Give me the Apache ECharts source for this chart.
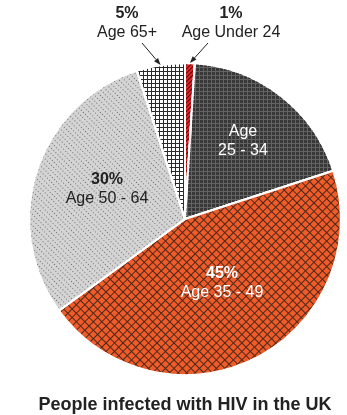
<!DOCTYPE html>
<html>
<head>
<meta charset="utf-8">
<script src="https://cdn.jsdelivr.net/npm/echarts@6/dist/echarts.min.js"></script>
<style>html,body{margin:0;padding:0;background:#fff}#c{width:347px;height:415px}</style>
</head>
<body>
<div id="c"></div>
<script>
// ---- data ----
var categories = ['Age Under 24', 'Age 25 - 34', 'Age 35 - 49', 'Age 50 - 64', 'Age 65+'];
var values = [1, 19, 45, 30, 5];
var showPercent = [true, false, true, true, true];
var labelTexts = ['Age Under 24', 'Age\n25 - 34', 'Age 35 - 49', 'Age 50 - 64', 'Age 65+'];
var chartTitle = 'People infected with HIV in the UK';

// ---- styles ----
var FONT = 'Liberation Sans, Arial, sans-serif';
var CX = 185, CY = 219, R = 156;
var fills = ['#e3232a', '#646464', '#4a2a1a', '#d4d4d4', '#2a2a2a'];
var decals = [
  {symbol: 'rect', symbolSize: 1, color: 'rgba(60,0,0,0.9)', dashArrayX: [[1, 0]], dashArrayY: [1, 2], rotation: -Math.PI / 4},
  {symbol: 'rect', symbolSize: 1, color: '#373737', dashArrayX: [[3, 1]], dashArrayY: [3, 1]},
  {symbol: 'rect', symbolSize: 1, color: '#f15a29', dashArrayX: [[4.2, 0.8]], dashArrayY: [4.2, 0.8], rotation: Math.PI / 4},
  {symbol: 'rect', symbolSize: 1, color: '#6e6e6e', dashArrayX: [[1, 2]], dashArrayY: [1, 3], rotation: Math.PI / 4},
  {symbol: 'rect', symbolSize: 1, color: '#ffffff', dashArrayX: [[2.2, 0.8]], dashArrayY: [2.2, 0.8]}
];
var labelDark = [true, false, false, true, true];
var labelPos = [[231, 23], [243, 141], [222, 283], [107, 189], [127, 23]];
var arrowFrom = [[208, 43], null, null, null, [142, 43]];

var total = values.reduce(function (a, b) { return a + b; }, 0);

// slice edge point at the slice's mid-angle, derived from the data
function edgePoint(i) {
  var acc = 0;
  for (var k = 0; k < i; k++) acc += values[k];
  var mid = (acc + values[i] / 2) / total * 2 * Math.PI;
  return [CX + R * Math.sin(mid), CY - R * Math.cos(mid)];
}

var data = categories.map(function (c, i) {
  return {
    name: c,
    value: values[i],
    itemStyle: {color: fills[i], decal: decals[i]},
    label: {
      formatter: function () {
        var k = labelDark[i] ? 'd' : 'w';
        var lines = labelTexts[i].split('\n').map(function (s) { return '{t' + k + '|' + s + '}'; }).join('\n');
        return (showPercent[i] ? '{p' + k + '|' + Math.round(values[i] / total * 100) + '%}\n' : '') + lines;
      }
    }
  };
});

var arrows = [];
values.forEach(function (v, i) {
  if (!arrowFrom[i]) return;
  var e = edgePoint(i), ex = e[0], ey = e[1];
  var sx = arrowFrom[i][0], sy = arrowFrom[i][1];
  var dx = ex - sx, dy = ey - sy, L = Math.sqrt(dx * dx + dy * dy);
  var ux = dx / L, uy = dy / L;
  var hl = 7, hw = 2.6;
  var bx = ex - ux * hl, by = ey - uy * hl;
  arrows.push({type: 'line', shape: {x1: sx, y1: sy, x2: bx, y2: by}, style: {stroke: '#222', lineWidth: 1}, z: 100});
  arrows.push({type: 'polygon', shape: {points: [[ex, ey], [bx - uy * hw, by + ux * hw], [bx + uy * hw, by - ux * hw]]}, style: {fill: '#222'}, z: 100});
});

var chart = echarts.init(document.getElementById('c'), null, {renderer: 'canvas'});
chart.setOption({
  animation: false,
  backgroundColor: '#fff',
  title: {
    text: chartTitle,
    left: 180, top: 391, textAlign: 'center',
    textStyle: {fontFamily: FONT, fontSize: 18, fontWeight: 'bold', color: '#222'}
  },
  graphic: {elements: arrows},
  series: [{
    type: 'pie',
    center: [CX, CY],
    radius: R,
    startAngle: 90,
    clockwise: true,
    avoidLabelOverlap: false,
    emphasis: {disabled: true},
    itemStyle: {borderColor: '#fff', borderWidth: 2},
    labelLine: {show: false},
    label: {
      show: true,
      position: 'inside',
      fontFamily: FONT,
      rich: {
        pd: {fontFamily: FONT, fontSize: 16, fontWeight: 'bold', color: '#222', lineHeight: 19, align: 'center'},
        pw: {fontFamily: FONT, fontSize: 16, fontWeight: 'bold', color: '#fff', lineHeight: 19, align: 'center'},
        td: {fontFamily: FONT, fontSize: 16, color: '#222', lineHeight: 19, align: 'center'},
        tw: {fontFamily: FONT, fontSize: 16, color: '#fff', lineHeight: 19, align: 'center'}
      }
    },
    labelLayout: function (p) {
      var pos = labelPos[p.dataIndex];
      return {x: pos[0], y: pos[1], align: 'center', verticalAlign: 'middle', hideOverlap: false};
    },
    data: data
  }]
});
</script>
</body>
</html>
